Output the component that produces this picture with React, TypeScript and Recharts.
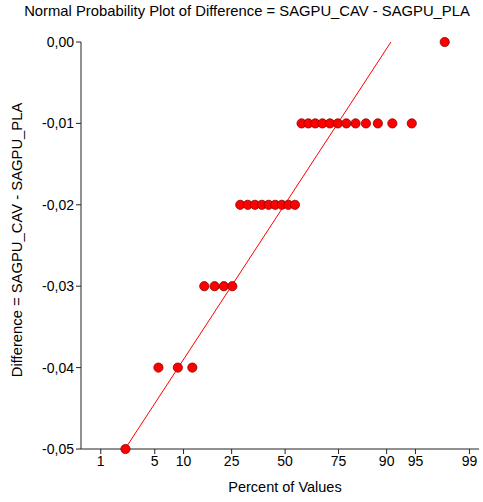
import React from "react";
import { Scatter, ScatterChart, XAxis, YAxis } from "recharts";

// sorted differences (SAGPU_CAV - SAGPU_PLA)
const diffValues = [
  -0.05,
  -0.04, -0.04, -0.04,
  -0.03, -0.03, -0.03, -0.03,
  -0.02, -0.02, -0.02, -0.02, -0.02, -0.02, -0.02, -0.02, -0.02,
  -0.01, -0.01, -0.01, -0.01, -0.01, -0.01, -0.01, -0.01, -0.01, -0.01, -0.01, -0.01,
  0.0,
];
const tickPercents = [1, 5, 10, 25, 50, 75, 90, 95, 99];
const yTicks = [-0.05, -0.04, -0.03, -0.02, -0.01, 0];
const axisPercentRange = [0.5, 99.28];
// reference line: difference = fitMean + fitSlope * z
const fitMean = -0.0199;
const fitSlope = 0.0149;

const FONT = "'Liberation Sans', Arial, sans-serif";

// Acklam's inverse normal CDF
function invNorm(p: number): number {
  const a = [-39.69683028665376, 220.9460984245205, -275.9285104469687, 138.357751867269, -30.66479806614716, 2.506628277459239];
  const b = [-54.47609879822406, 161.5858368580409, -155.6989798598866, 66.80131188771972, -13.28068155288572];
  const c = [-0.007784894002430293, -0.3223964580411365, -2.400758277161838, -2.549732539343734, 4.374664141464968, 2.938163982698783];
  const d = [0.007784695709041462, 0.3224671290700398, 2.445134137142996, 3.754408661907416];
  const pl = 0.02425;
  if (p < pl) {
    const q = Math.sqrt(-2 * Math.log(p));
    return (((((c[0] * q + c[1]) * q + c[2]) * q + c[3]) * q + c[4]) * q + c[5]) /
      ((((d[0] * q + d[1]) * q + d[2]) * q + d[3]) * q + 1);
  }
  if (p > 1 - pl) {
    const q = Math.sqrt(-2 * Math.log(1 - p));
    return -(((((c[0] * q + c[1]) * q + c[2]) * q + c[3]) * q + c[4]) * q + c[5]) /
      ((((d[0] * q + d[1]) * q + d[2]) * q + d[3]) * q + 1);
  }
  const q = p - 0.5;
  const r = q * q;
  return (((((a[0] * r + a[1]) * r + a[2]) * r + a[3]) * r + a[4]) * r + a[5]) * q /
    (((((b[0] * r + b[1]) * r + b[2]) * r + b[3]) * r + b[4]) * r + 1);
}

const n = diffValues.length;
const points = diffValues.map((v, i) => ({
  z: invNorm((i + 1 - 1 / 3) / (n + 1 / 3)),
  diff: v,
}));
const fitLine = [yTicks[0], yTicks[yTicks.length - 1]].map((v) => ({
  z: (v - fitMean) / fitSlope,
  diff: v,
}));
const tickZ = tickPercents.map((p) => invNorm(p / 100));
const xDomain = axisPercentRange.map((p) => invNorm(p / 100));

const fmtPct = (z: number) => {
  let best = 0;
  tickZ.forEach((t, i) => {
    if (Math.abs(t - z) < Math.abs(tickZ[best] - z)) best = i;
  });
  return String(tickPercents[best]);
};

const Dot = (props: any) => {
  const { cx, cy } = props;
  if (cx == null || cy == null) return null;
  return <circle cx={cx} cy={cy} r={4.6} fill="#ff0000" stroke="#8a0000" strokeWidth={0.8} />;
};

export default function App() {
  const tickStyle = { fill: "#000", fontSize: 14, fontFamily: FONT };
  return (
    <div style={{ position: "absolute", left: 0, top: 0, width: 483, height: 502, background: "#fff", fontFamily: FONT }}>
      <div style={{ position: "absolute", left: 0, width: 494, top: 3, textAlign: "center", fontSize: 14.8, color: "#000", whiteSpace: "nowrap" }}>
        Normal Probability Plot of Difference = SAGPU_CAV - SAGPU_PLA
      </div>
      <ScatterChart width={483} height={502} margin={{ top: 42, right: 4, bottom: 23, left: 21 }}>
        <XAxis
          type="number"
          dataKey="z"
          domain={xDomain}
          allowDataOverflow
          ticks={tickZ}
          tickFormatter={fmtPct}
          height={30}
          tickSize={5}
          stroke="#222"
          tick={tickStyle}
          interval={0}
        />
        <YAxis
          type="number"
          dataKey="diff"
          domain={[yTicks[0], yTicks[yTicks.length - 1]]}
          ticks={yTicks}
          tickFormatter={(v: number) => v.toFixed(2).replace(".", ",")}
          width={60}
          tickSize={5}
          stroke="#222"
          tick={tickStyle}
          interval={0}
        />
        <Scatter
          data={fitLine}
          line={{ stroke: "#ff0000", strokeWidth: 1 }}
          shape={() => null}
          isAnimationActive={false}
        />
        <Scatter data={points} shape={Dot} isAnimationActive={false} />
      </ScatterChart>
      <div style={{ position: "absolute", left: 185, width: 200, top: 479, textAlign: "center", fontSize: 14.5, color: "#000" }}>
        Percent of Values
      </div>
      <div
        style={{
          position: "absolute",
          left: 17 - 150,
          top: 241 - 9,
          width: 300,
          textAlign: "center",
          fontSize: 14.8,
          color: "#000",
          transform: "rotate(-90deg)",
          whiteSpace: "nowrap",
        }}
      >
        Difference = SAGPU_CAV - SAGPU_PLA
      </div>
    </div>
  );
}
